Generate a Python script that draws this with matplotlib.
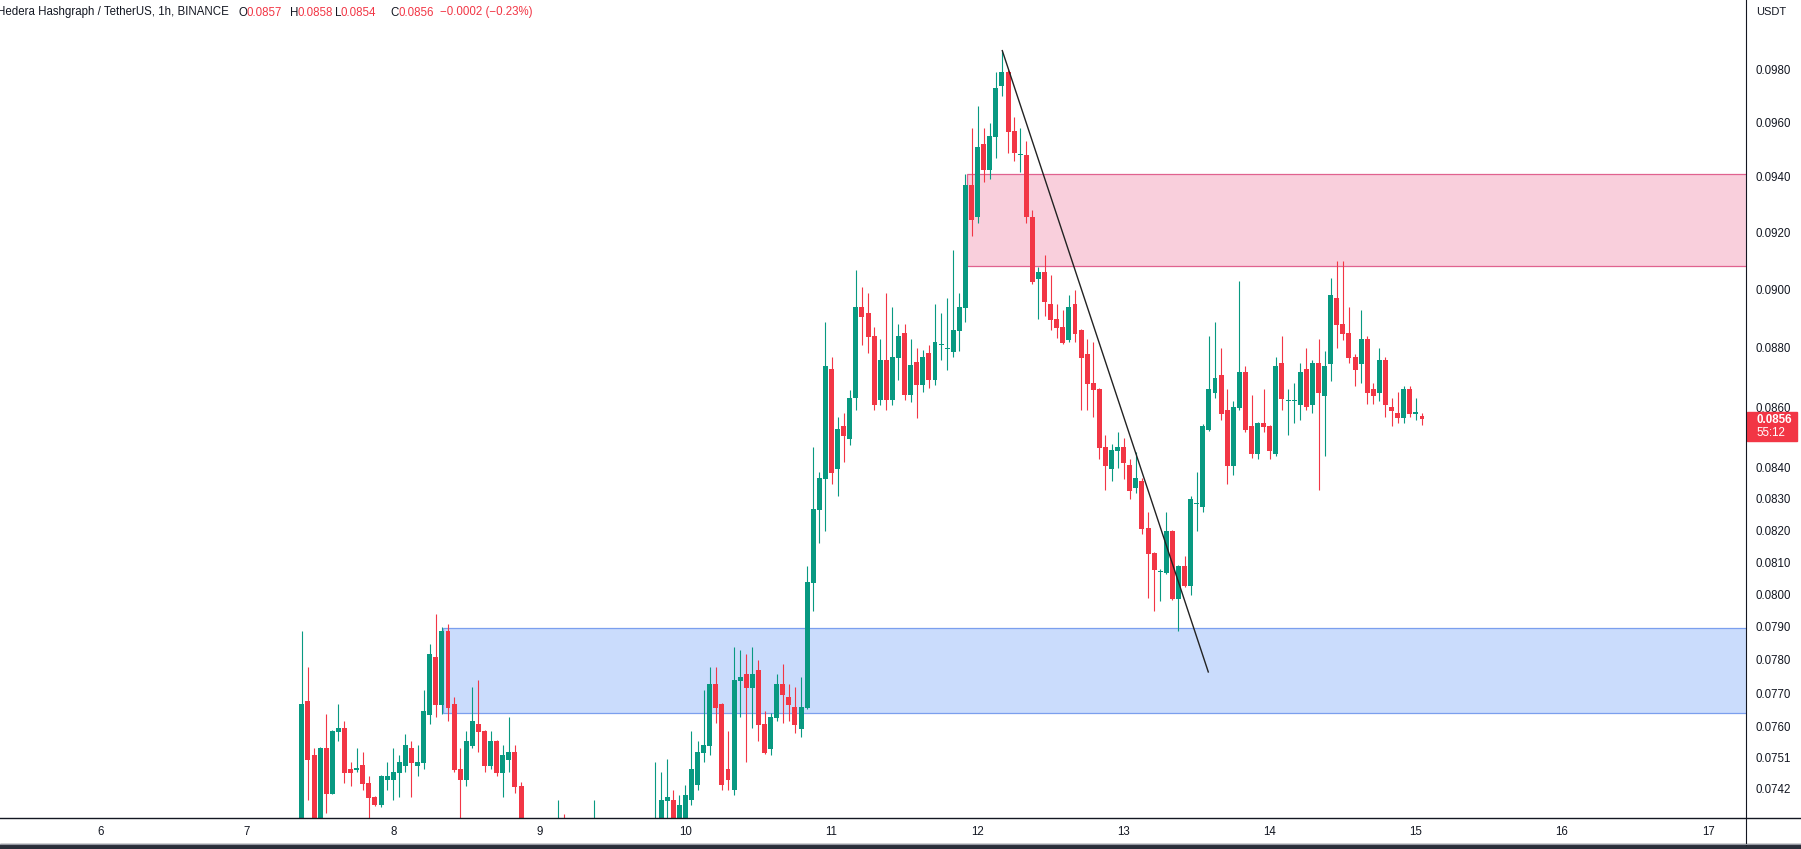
import numpy as np
import matplotlib
matplotlib.use("Agg")
import matplotlib.pyplot as plt
from matplotlib.patches import Rectangle
from matplotlib.lines import Line2D
from matplotlib.ticker import NullLocator, NullFormatter

W, H = 1801, 849
plt.rcParams['font.family'] = ['Liberation Sans', 'DejaVu Sans']

# HBAR/USDT 1h candles, first one is the 7th at 09:00
first_day = 7
first_hour = 9

opens = [
    .07303, .07677, .07518, .07289, .07539, .07406, .07585, .07597, .07478, .07475,
    .07489, .07437, .07397, .07374, .07446, .07446, .07466, .07486, .07539, .07486,
    .07495, .07635, .07808, .07665, .07887, .07668, .07478, .07446, .07545, .07608,
    .07588, .07486, .07559, .07466, .07504, .07527, .07429, .07275, .07241, .07280,
    .07252, .07225, .07261, .07303, .07269, .07247, .07275, .07241, .07280, .07308,
    .07269, .07233, .07261, .07225, .07252, .07280, .07258, .07292, .07275, .07289,
    .07385, .07388, .07289, .07289, .07388, .07432, .07524, .07545, .07727, .07668,
    .07478, .07417, .07736, .07757, .07715, .07769, .07608, .07536, .07626, .07727,
    .07688, .07659, .07594, .07656, .08035, .08265, .08364, .08727, .08397, .08537,
    .08494, .08631, .08939, .08918, .08839, .08624, .08758, .08624, .08765, .08850,
    .08640, .08751, .08674, .08782, .08690, .08809, .08795, .08785, .08857, .08936,
    .09371, .09255, .09520, .09425, .09546, .09736, .09788, .09568, .09479, .09479,
    .09255, .09036, .09061, .08949, .08898, .08870, .08826, .08949, .08860, .08778,
    .08680, .08660, .08469, .08397, .08455, .08469, .08410, .08335, .08358, .08207,
    .08129, .08069, .08066, .08198, .07985, .08088, .08025, .08284, .08275, .08524,
    .08647, .08707, .08590, .08406, .08597, .08717, .08537, .08446, .08547, .08537,
    .08446, .08748, .08620, .08620, .08607, .08727, .08607, .08748, .08637, .08744,
    .08970, .08880, .08850, .08768, .08744, .08829, .08660, .08647, .08758, .08600,
    .08580, .08564, .08660, .08578, .08570,
]
highs = [
    .07887, .07778, .07539, .07542, .07638, .07590, .07668, .07617, .07498, .07539,
    .07527, .07458, .07400, .07460, .07498, .07539, .07518, .07579, .07559, .07547,
    .07709, .07848, .07939, .07899, .07908, .07689, .07539, .07588, .07718, .07739,
    .07590, .07588, .07561, .07547, .07629, .07547, .07440, .07303, .07308, .07297,
    .07275, .07289, .07388, .07348, .07297, .07303, .07289, .07317, .07388, .07325,
    .07286, .07280, .07275, .07269, .07303, .07297, .07314, .07331, .07498, .07469,
    .07507, .07417, .07403, .07432, .07588, .07559, .07709, .07778, .07778, .07670,
    .07588, .07838, .07829, .07817, .07838, .07799, .07647, .07641, .07757, .07787,
    .07727, .07718, .07748, .08088, .08469, .08387, .08887, .08768, .08567, .08580,
    .08657, .09068, .09008, .08988, .08870, .08829, .08988, .08939, .08880, .08880,
    .08829, .08799, .08792, .08809, .08949, .08918, .08970, .09138, .08988, .09411,
    .09579, .09661, .09579, .09598, .09788, .09868, .09796, .09620, .09579, .09531,
    .09280, .09078, .09120, .09050, .08949, .08929, .08980, .08998, .08862, .08829,
    .08819, .08662, .08507, .08478, .08517, .08497, .08429, .08452, .08367, .08259,
    .08132, .08078, .08259, .08200, .08090, .08119, .08310, .08387, .08544, .08840,
    .08887, .08799, .08660, .08620, .09029, .08738, .08640, .08549, .08660, .08539,
    .08768, .08840, .08660, .08680, .08748, .08799, .08758, .08829, .08789, .09040,
    .09099, .09099, .08939, .08778, .08929, .08840, .08680, .08799, .08768, .08631,
    .08650, .08670, .08670, .08631, .08580,
]
lows = [
    .07289, .07388, .07275, .07275, .07351, .07404, .07559, .07437, .07429, .07469,
    .07417, .07317, .07371, .07368, .07417, .07388, .07397, .07469, .07397, .07458,
    .07478, .07608, .07629, .07638, .07617, .07469, .07317, .07429, .07539, .07527,
    .07469, .07478, .07458, .07397, .07469, .07409, .07261, .07233, .07225, .07233,
    .07214, .07214, .07247, .07252, .07233, .07230, .07225, .07230, .07269, .07252,
    .07219, .07214, .07208, .07202, .07241, .07241, .07247, .07275, .07261, .07275,
    .07303, .07275, .07275, .07275, .07374, .07417, .07498, .07518, .07611, .07417,
    .07417, .07403, .07629, .07498, .07597, .07559, .07522, .07518, .07617, .07611,
    .07617, .07582, .07571, .07654, .07948, .08160, .08198, .08348, .08310, .08419,
    .08475, .08590, .08809, .08782, .08590, .08607, .08590, .08607, .08690, .08624,
    .08617, .08564, .08650, .08664, .08674, .08758, .08724, .08768, .08789, .08887,
    .09188, .09234, .09381, .09392, .09468, .09698, .09487, .09457, .09418, .09234,
    .09019, .08898, .08908, .08860, .08833, .08812, .08819, .08819, .08590, .08590,
    .08567, .08429, .08329, .08358, .08400, .08364, .08300, .08319, .08188, .07988,
    .07948, .07979, .08063, .07982, .07887, .08023, .07997, .08198, .08259, .08522,
    .08631, .08557, .08348, .08377, .08590, .08517, .08433, .08429, .08517, .08429,
    .08439, .08590, .08507, .08547, .08557, .08590, .08580, .08329, .08439, .08687,
    .08799, .08826, .08748, .08670, .08680, .08610, .08610, .08620, .08567, .08537,
    .08547, .08547, .08567, .08557, .08540,
]
closes = [
    .07668, .07504, .07303, .07539, .07406, .07588, .07597, .07466, .07466, .07478,
    .07435, .07394, .07374, .07458, .07458, .07469, .07498, .07547, .07495, .07498,
    .07647, .07817, .07665, .07887, .07656, .07475, .07446, .07559, .07617, .07585,
    .07486, .07559, .07466, .07518, .07527, .07426, .07275, .07247, .07280, .07252,
    .07225, .07261, .07303, .07269, .07247, .07275, .07241, .07280, .07308, .07269,
    .07233, .07261, .07225, .07252, .07280, .07258, .07292, .07314, .07317, .07388,
    .07397, .07289, .07374, .07403, .07478, .07527, .07547, .07727, .07656, .07432,
    .07446, .07739, .07748, .07715, .07757, .07605, .07524, .07629, .07727, .07694,
    .07665, .07605, .07659, .08038, .08268, .08367, .08738, .08384, .08527, .08504,
    .08631, .08939, .08904, .08836, .08607, .08758, .08624, .08768, .08839, .08640,
    .08741, .08674, .08768, .08690, .08819, .08812, .08799, .08860, .08939, .09371,
    .09245, .09509, .09425, .09550, .09728, .09788, .09564, .09487, .09482, .09255,
    .09026, .09061, .08956, .08894, .08867, .08816, .08939, .08846, .08765, .08677,
    .08657, .08465, .08406, .08459, .08469, .08416, .08326, .08367, .08204, .08126,
    .08075, .08072, .08198, .07985, .08088, .08025, .08300, .08287, .08537, .08660,
    .08697, .08577, .08406, .08600, .08717, .08524, .08446, .08547, .08534, .08455,
    .08738, .08627, .08622, .08622, .08717, .08600, .08748, .08647, .08738, .08980,
    .08877, .08846, .08765, .08724, .08829, .08647, .08637, .08758, .08607, .08587,
    .08564, .08660, .08577, .08580, .08560,
]

day_ticks = list(range(6, 18))
price_ticks = [0.0980, 0.0960, 0.0940, 0.0920, 0.0900, 0.0880, 0.0860, 0.0840,
               0.0830, 0.0820, 0.0810, 0.0800, 0.0790, 0.0780, 0.0770, 0.0760,
               0.0751, 0.0742]

# drawn zones: (start day, low, high)
supply_zone = (11.927, 0.09082, 0.09410)
demand_zone = (8.341, 0.07641, 0.07896)
trend_days = [12.169, 13.579]
trend_prices = [0.09870, 0.07763]
last_price = 0.0856
countdown = "55:12"

GREEN = '#089981'
RED = '#f23645'
TXT = '#131722'

o = np.array(opens); h = np.array(highs); l = np.array(lows); c = np.array(closes)
t = first_day + (first_hour + np.arange(len(o))) / 24

fig = plt.figure(figsize=(W / 100, H / 100), dpi=100)
fig.patch.set_facecolor('white')
ax = fig.add_axes([0, 31 / H, 1746 / W, 818 / H])
ax.set_yscale('log')
ax.set_xlim(5.3087, 17.2594)
ax.set_ylim(0.07337, 0.10065)

# zones
x_end = 17.2594
ax.add_patch(Rectangle((supply_zone[0], supply_zone[1]), x_end + 1 - supply_zone[0],
                       supply_zone[2] - supply_zone[1], facecolor='#f9cfdc',
                       edgecolor='#e0628f', lw=0.9, zorder=1))
ax.add_patch(Rectangle((demand_zone[0], demand_zone[1]), x_end + 1 - demand_zone[0],
                       demand_zone[2] - demand_zone[1], facecolor='#cadcfc',
                       edgecolor='#7b9fee', lw=0.9, zorder=1))

# candles
up = c >= o
cols = np.where(up, GREEN, RED)
ax.vlines(t, l, h, colors=cols, lw=0.8, zorder=2)
lo = np.minimum(o, c)
hi = np.maximum(o, c)
ht = np.maximum(hi - lo, lo / 2588 * 1.3)
ax.bar(t, ht, bottom=lo, width=0.034, color=cols, linewidth=0, zorder=3)

ax.plot(trend_days, trend_prices, color='#222222', lw=1.0, zorder=4)

# axes look
for s in ax.spines.values():
    s.set_visible(False)
ax.set_xticks(day_ticks)
ax.set_xticklabels([str(d) for d in day_ticks])
ax.tick_params(axis='x', length=0, pad=6, labelsize=8.3, labelcolor=TXT)
ax.yaxis.tick_right()
ax.set_yticks(price_ticks)
ax.set_yticklabels([f'{p:.4f}' for p in price_ticks])
ax.yaxis.set_minor_locator(NullLocator())
ax.yaxis.set_minor_formatter(NullFormatter())
ax.tick_params(axis='y', length=0, pad=7, labelsize=8.3, labelcolor=TXT)


def fy(y):
    return 1 - y / H


fig.add_artist(Line2D([0, 1], [fy(818)] * 2, color=TXT, lw=1.0, transform=fig.transFigure))
fig.add_artist(Line2D([1746 / W] * 2, [fy(845), 1], color=TXT, lw=0.8, transform=fig.transFigure))
fig.add_artist(Rectangle((0, 0), 1, 5 / H, transform=fig.transFigure, color='#2a2e39'))
fig.add_artist(Line2D([0, 1], [5 / H] * 2, color='#9598a1', lw=0.8, transform=fig.transFigure))

# header (cut at the left edge like the screenshot)
fig.text(-3 / W, fy(12.5), 'Hedera Hashgraph / TetherUS, 1h, BINANCE', fontsize=8.3,
         color=TXT, va='center', ha='left')
header = [(238.4, 'O', TXT), (246.8, f'{opens[-1]:.4f}', RED),
          (289.7, 'H', TXT), (297.4, f'{highs[-1]:.4f}', RED),
          (334.9, 'L', TXT), (340.6, f'{lows[-1]:.4f}', RED),
          (390.4, 'C', TXT), (398.0, f'{closes[-1]:.4f}', RED),
          (440.0, '\u22120.0002 (\u22120.23%)', RED)]
for x, s, col in header:
    fig.text(x / W, fy(12.5), s, fontsize=8.3, color=col, va='center', ha='left')

fig.text(1756 / W, fy(12), 'USDT', fontsize=8, color=TXT, va='center', ha='left')

# last price tag
fig.add_artist(Rectangle((1747 / W, fy(441)), 50 / W, 29 / H, transform=fig.transFigure,
                         color=RED))
fig.text(1756 / W, fy(420), f'{last_price:.4f}', fontsize=8.3, color='white',
         fontweight='bold', va='center', ha='left')
fig.text(1756 / W, fy(433.5), countdown, fontsize=8.3, color='white', va='center', ha='left')

fig.savefig('out.png', dpi=100)
